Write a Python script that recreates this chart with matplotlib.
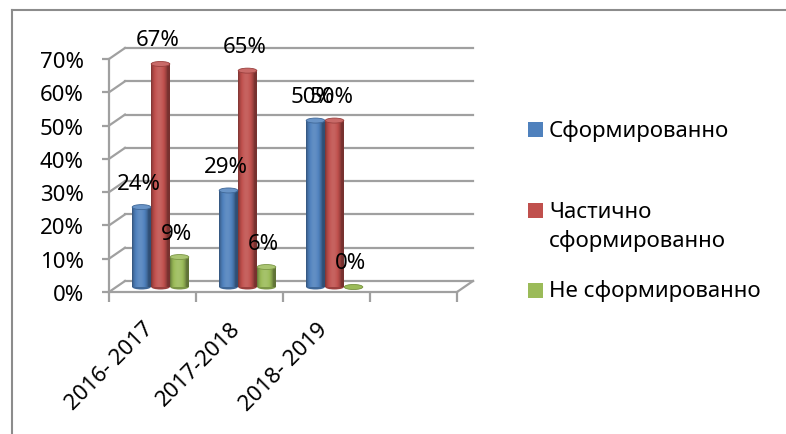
import numpy as np
import matplotlib.pyplot as plt
from matplotlib.patches import Ellipse, Rectangle

# data
years = ["2016- 2017", "2017-2018", "2018- 2019"]
series = ["Сформированно", "Частично\nсформированно", "Не сформированно"]
formed = [0.24, 0.29, 0.50]
partly = [0.67, 0.65, 0.50]
not_formed = [0.09, 0.06, 0.00]
values = [formed, partly, not_formed]
colors = ["#4F81BD", "#C0504D", "#9BBB59"]
yticks = [0, 0.1, 0.2, 0.3, 0.4, 0.5, 0.6, 0.7]
n_slots = 4

plt.rcParams['font.family'] = ['Noto Sans', 'DejaVu Sans']
FS = 16
GRID = "#a0a0a0"

W, H = 786, 435
fig = plt.figure(figsize=(W / 100, H / 100), dpi=100)


def fx(px):
    return px / W


def fy(py):
    return 1 - py / H


# front plane of the pseudo-3d box
ax = fig.add_axes([fx(109), fy(293), fx(457) - fx(109), fy(60) - fy(293)])
ax.set_xlim(0, n_slots)
ax.set_ylim(0, 0.7)

# data units per pixel
ppx = n_slots / (457 - 109)
ppy = 0.7 / (293 - 60)
back_dx, back_dy = 16 * ppx, 11 * ppy
mid_dx, mid_dy = 8 * ppx, 5 * ppy

# back wall gridlines and side wall diagonals
for v in yticks:
    ax.plot([back_dx, n_slots + back_dx], [v + back_dy, v + back_dy],
            color=GRID, lw=1.6, clip_on=False, zorder=1)
    ax.plot([0, back_dx], [v, v + back_dy], color=GRID, lw=1.6,
            clip_on=False, zorder=1)
# floor right edge
ax.plot([n_slots, n_slots + back_dx], [0, back_dy], color=GRID, lw=1.6,
        clip_on=False, zorder=1)


def shade(rgb, n=64):
    t = np.linspace(0, 1, n)
    f = 0.62 + 0.5 * np.sin(np.pi * np.clip(t * 1.15, 0, 1)) ** 0.7
    cols = []
    for k in f:
        if k <= 1:
            cols.append(np.array(rgb) * k)
        else:
            cols.append(np.array(rgb) + (1 - np.array(rgb)) * (k - 1) * 0.9)
    return np.clip(np.array(cols), 0, 1)[None, :, :]


def cylinder(x, h, w, color):
    rgb = plt.matplotlib.colors.to_rgb(color)
    eh = 5 * ppy
    y0 = mid_dy
    # bottom cap
    ax.add_patch(Ellipse((x, y0), w, eh, facecolor=np.array(rgb) * 0.8,
                         edgecolor='none', clip_on=False, zorder=3))
    if h > 0:
        img = shade(rgb)
        ax.imshow(img, extent=(x - w / 2, x + w / 2, y0, y0 + h),
                  aspect='auto', interpolation='bilinear', zorder=3,
                  clip_on=False)
        top = np.array(rgb) * 0.85 + 0.15
        ax.add_patch(Ellipse((x, y0 + h), w, eh, facecolor=np.clip(top, 0, 1),
                             edgecolor=np.array(rgb) * 0.8, lw=0.6,
                             clip_on=False, zorder=4))
    else:
        ax.add_patch(Ellipse((x, y0), w, eh, facecolor=color,
                             edgecolor=np.array(rgb) * 0.8, lw=0.6,
                             clip_on=False, zorder=4))


bw = 19 * ppx
for j, (vals, col) in enumerate(zip(values, colors)):
    for i, v in enumerate(vals):
        xc = i + 0.5 + mid_dx + (j - 1) * bw
        cylinder(xc, v, bw * 0.98, col)
        ax.text(xc - 3 * ppx, v + mid_dy + 24 * ppy, f"{round(v * 100)}%",
                ha='center', va='center', fontsize=FS, zorder=6, clip_on=False)

ax.set_xlim(0, n_slots)
ax.set_ylim(0, 0.7)

# axes styling
for s in ['top', 'right']:
    ax.spines[s].set_visible(False)
for s in ['left', 'bottom']:
    ax.spines[s].set_color(GRID)
    ax.spines[s].set_linewidth(1.6)
    ax.spines[s].set_zorder(2)
ax.set_facecolor('none')
ax.set_yticks(yticks)
ax.set_yticklabels([f"{round(v * 100)}%" for v in yticks], fontsize=FS)
ax.set_xticks(range(n_slots + 1))
ax.set_xticklabels([])
ax.tick_params(axis='y', length=5, width=1.6, color=GRID, pad=13)
ax.tick_params(axis='x', length=7, width=1.6, color=GRID)

for i, lab in enumerate(years):
    ax.annotate(lab, xy=(i + 0.5, 0), xytext=(5, -26), textcoords='offset pixels',
                rotation=45, ha='right', va='top', fontsize=FS,
                annotation_clip=False)

# legend (manual, Excel style)
leg_y = [130.5, 211.5, 291.5]
for lab, col, yc in zip(series, colors, leg_y):
    fig.patches.append(Rectangle((fx(528), fy(yc + 7.5)), 15 / W, 15 / H,
                                 transform=fig.transFigure, facecolor=col,
                                 edgecolor='none'))
    nl = lab.count('\n')
    fig.text(fx(549), fy(yc + 15.5 * nl), lab, ha='left', va='center',
             fontsize=FS, linespacing=1.4)

# chart frame (top and left edges visible)
fig.add_artist(plt.Line2D([fx(12), 1], [fy(11), fy(11)], color='#8c8c8c',
                          lw=1.5, transform=fig.transFigure))
fig.add_artist(plt.Line2D([fx(12), fx(12)], [fy(11), 0], color='#8c8c8c',
                          lw=1.5, transform=fig.transFigure))

fig.savefig("out.png", dpi=100)
